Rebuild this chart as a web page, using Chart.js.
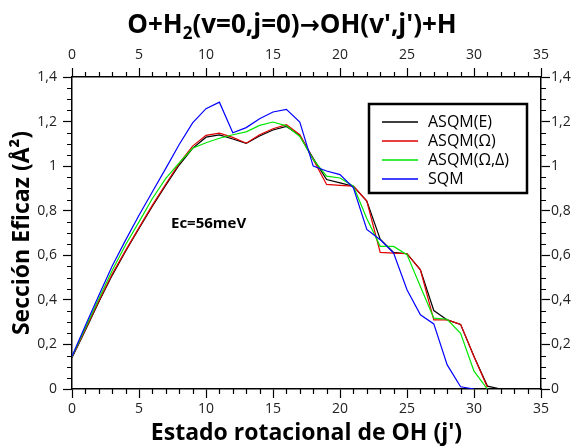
<!DOCTYPE html>
<html>
<head>
<meta charset="utf-8">
<script src="https://cdn.jsdelivr.net/npm/chart.js@4.4.0/dist/chart.umd.min.js"></script>
<style>
  html, body { margin: 0; padding: 0; background: #fff; }
</style>
</head>
<body>
<canvas id="chart" width="578" height="448"></canvas>
<script>
// estado rotacional j'
const jStates = [0, 1, 2, 3, 4, 5, 6, 7, 8, 9, 10, 11, 12, 13, 14, 15, 16, 17, 18, 19, 20, 21, 22, 23, 24, 25, 26, 27, 28, 29, 30, 31, 32];

// secciones eficaces (Å²)
const asqmE = [0.140, 0.264, 0.390, 0.510, 0.618, 0.720, 0.820, 0.915, 1.005, 1.080, 1.130, 1.140, 1.122, 1.102, 1.135, 1.162, 1.178, 1.138, 1.035, 0.940, 0.925, 0.910, 0.843, 0.672, 0.613, 0.607, 0.535, 0.352, 0.310, 0.290, 0.146, 0.013, 0];
const asqmOmega = [0.142, 0.268, 0.395, 0.516, 0.622, 0.724, 0.825, 0.920, 1.012, 1.090, 1.138, 1.148, 1.129, 1.103, 1.141, 1.168, 1.186, 1.141, 1.030, 0.918, 0.914, 0.910, 0.843, 0.613, 0.610, 0.607, 0.535, 0.310, 0.310, 0.290, 0.146, 0.008];
const asqmOmegaDelta = [0.145, 0.275, 0.405, 0.532, 0.647, 0.750, 0.855, 0.945, 1.015, 1.080, 1.105, 1.125, 1.141, 1.154, 1.183, 1.198, 1.181, 1.133, 1.030, 0.955, 0.947, 0.910, 0.765, 0.640, 0.640, 0.603, 0.460, 0.318, 0.313, 0.250, 0.080, 0];
const sqm = [0.147, 0.285, 0.420, 0.552, 0.668, 0.780, 0.885, 0.990, 1.097, 1.194, 1.258, 1.287, 1.150, 1.173, 1.213, 1.243, 1.255, 1.198, 1.000, 0.978, 0.962, 0.903, 0.716, 0.670, 0.610, 0.445, 0.333, 0.292, 0.108, 0.010, 0];

const seriesNames = ["ASQM(E)", "ASQM(Ω)", "ASQM(Ω,Δ)", "SQM"];
const seriesColors = ["#000000", "#e00000", "#00e600", "#0000ff"];

const toPoints = (vals) => vals.map((v, i) => ({ x: jStates[i], y: v }));

const allSeries = [asqmE, asqmOmega, asqmOmegaDelta, sqm];
const datasets = allSeries.map((vals, i) => ({
  label: seriesNames[i],
  data: toPoints(vals),
  borderColor: seriesColors[i],
  backgroundColor: seriesColors[i],
  borderWidth: 1.2,
  pointRadius: 0,
  tension: 0,
  fill: false,
  order: 4 - i, // el azul encima
}));

const comma = (v) => (Math.round(v * 10) / 10).toString().replace(".", ",");
const tickFont = { family: "Open Sans", size: 14 };
const axisTitleFont = { family: "Open Sans", size: 23, weight: "bold" };

// título con subíndice y flecha
const titleParts = [
  { text: "O+H", font: "bold 26px 'Open Sans'", dy: 0 },
  { text: "2", font: "bold 17px 'Open Sans'", dy: 6 },
  { text: "(v=0,j=0)", font: "bold 26px 'Open Sans'", dy: 0 },
  { text: "→", font: "bold 24px 'DejaVu Sans'", dy: 0 },
  { text: "OH(v',j')+H", font: "bold 26px 'Open Sans'", dy: 0 },
];

const drawTitle = {
  id: "drawTitle",
  afterDraw(chart) {
    const ctx = chart.ctx;
    ctx.save();
    ctx.fillStyle = "#000";
    ctx.textBaseline = "alphabetic";
    let total = 0;
    titleParts.forEach((p) => { ctx.font = p.font; total += ctx.measureText(p.text).width; });
    let x = 292 - total / 2;
    titleParts.forEach((p) => {
      ctx.font = p.font;
      ctx.fillText(p.text, x, 33 + p.dy);
      x += ctx.measureText(p.text).width;
    });
    ctx.restore();
  },
};

// ticks menores
const minorTicks = {
  id: "minorTicks",
  afterDraw(chart) {
    const { ctx, chartArea: a, scales } = chart;
    ctx.save();
    ctx.strokeStyle = "#000";
    ctx.lineWidth = 1.2;
    ctx.beginPath();
    for (let v = 0; v <= 35; v++) {
      if (v % 5 === 0) continue;
      const px = Math.round(scales.x.getPixelForValue(v)) + 0.5;
      ctx.moveTo(px, a.bottom);
      ctx.lineTo(px, a.bottom + 5);
      ctx.moveTo(px, a.top);
      ctx.lineTo(px, a.top - 5);
    }
    for (let k = 0; k <= 28; k++) {
      if (k % 4 === 0) continue;
      const py = Math.round(scales.y.getPixelForValue(k * 0.05)) + 0.5;
      ctx.moveTo(a.left, py);
      ctx.lineTo(a.left - 5, py);
      ctx.moveTo(a.right, py);
      ctx.lineTo(a.right + 5, py);
    }
    ctx.stroke();
    ctx.restore();
  },
};

// leyenda con marco y etiqueta de energía
const boxLegend = {
  id: "boxLegend",
  afterDraw(chart) {
    const ctx = chart.ctx;
    ctx.save();
    ctx.fillStyle = "#fff";
    ctx.fillRect(369, 104, 158, 89);
    ctx.strokeStyle = "#000";
    ctx.lineWidth = 2.5;
    ctx.strokeRect(369, 104, 158, 89);
    ctx.font = "16px 'Open Sans'";
    ctx.textBaseline = "middle";
    chart.data.datasets.forEach((ds, i) => {
      const y = 122 + i * 19;
      ctx.strokeStyle = ds.borderColor;
      ctx.lineWidth = 1.5;
      ctx.beginPath();
      ctx.moveTo(382, y);
      ctx.lineTo(418, y);
      ctx.stroke();
      ctx.fillStyle = "#000";
      ctx.fillText(ds.label, 428, y);
    });
    ctx.font = "bold 15px 'Open Sans'";
    ctx.fillText("Ec=56meV", 171, 223.5);
    ctx.restore();
  },
};

const xCommon = {
  type: "linear",
  min: 0,
  max: 35,
  ticks: { stepSize: 5, color: "#222", font: tickFont, maxRotation: 0 },
  grid: { drawOnChartArea: false, tickLength: 9, color: "#000", tickWidth: 1.2 },
  border: { color: "#000", width: 1.5 },
};
const yCommon = {
  type: "linear",
  min: 0,
  max: 1.4,
  ticks: { stepSize: 0.2, color: "#222", font: tickFont, callback: comma },
  grid: { drawOnChartArea: false, tickLength: 9, color: "#000", tickWidth: 1.2 },
  border: { color: "#000", width: 1.5 },
};

new Chart(document.getElementById("chart"), {
  type: "line",
  data: { datasets: datasets },
  options: {
    responsive: false,
    animation: false,
    devicePixelRatio: 1,
    layout: { padding: 0 },
    plugins: {
      legend: { display: false },
      tooltip: { enabled: false },
      title: { display: false },
    },
    scales: {
      x: {
        ...xCommon,
        position: "bottom",
        ticks: { ...xCommon.ticks, padding: 3 },
        title: { display: true, text: "Estado rotacional de OH (j')", color: "#000", font: axisTitleFont, padding: { top: 0, bottom: 1 } },
        afterFit: (s) => { s.height = 59; },
      },
      x2: {
        ...xCommon,
        axis: "x",
        position: "top",
        ticks: { ...xCommon.ticks, padding: 5 },
        afterFit: (s) => { s.height = 77; },
      },
      y: {
        ...yCommon,
        position: "left",
        ticks: { ...yCommon.ticks, padding: 6 },
        title: { display: true, text: "Sección Eficaz (Å²)", color: "#000", font: axisTitleFont, padding: { top: 9, bottom: 0 } },
        afterFit: (s) => { s.width = 72; },
      },
      y2: {
        ...yCommon,
        axis: "y",
        position: "right",
        ticks: { ...yCommon.ticks, padding: 1 },
        afterFit: (s) => { s.width = 37; },
      },
    },
  },
  plugins: [minorTicks, boxLegend, drawTitle],
});
</script>
</body>
</html>
